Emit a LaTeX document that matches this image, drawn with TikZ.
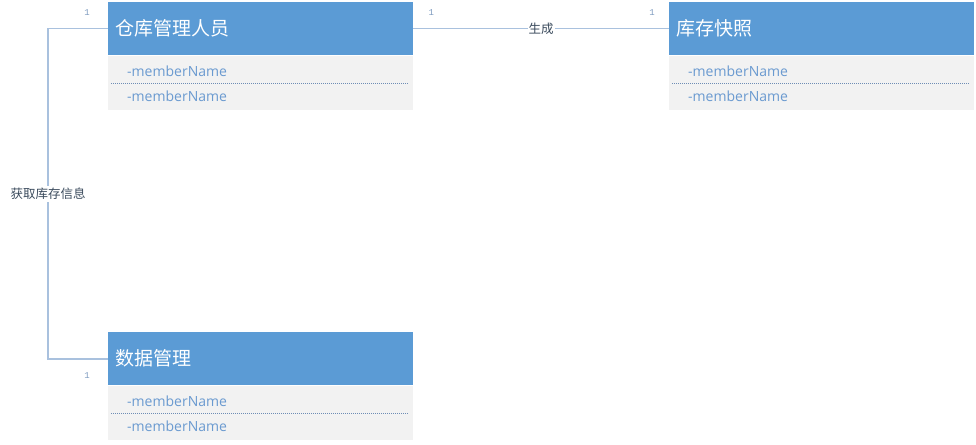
\documentclass[tikz,border=0pt]{standalone}
\usepackage{fontspec}
\setmainfont{Open Sans}
\newfontfamily\cjk{Noto Sans CJK SC}
\newfontfamily\monof{Liberation Mono}
\usetikzlibrary{calc}
\definecolor{hdrblue}{HTML}{5B9BD5}
\definecolor{bodygray}{HTML}{F2F2F2}
\definecolor{membertxt}{HTML}{6A9AD0}
\definecolor{connline}{HTML}{A9C1DE}
\definecolor{sepline}{HTML}{6E8DB5}
\definecolor{multtxt}{HTML}{7F9CC0}
\definecolor{lbltxt}{HTML}{3A4A5C}
\begin{document}
\begin{tikzpicture}[x=1pt,y=-1pt,
  header/.style={fill=hdrblue, draw=none, anchor=north west,
    text width=291pt, inner xsep=7pt, inner ysep=0pt, minimum height=53pt,
    align=left, text=white, font=\cjk\fontsize{19}{22}\selectfont},
  classbody/.style={fill=bodygray, draw=none, anchor=north,
    minimum width=305pt, minimum height=54pt, inner sep=0pt},
  member/.style={anchor=west, inner sep=0pt, text=membertxt,
    font=\fontsize{14}{16}\selectfont},
  sep/.style={draw=sepline, line width=0.7pt, dash pattern=on 1pt off 1pt},
  conn/.style={draw=connline, line width=1.6pt},
  lbl/.style={fill=white, inner xsep=1pt, inner ysep=2pt, text=lbltxt,
    font=\cjk\fontsize{12.5}{14}\selectfont},
  mult/.style={inner sep=0pt, text=multtxt, font=\monof\fontsize{9}{10}\selectfont}
]
\useasboundingbox (0,0) rectangle (976,444);

% class: warehouse staff
\node[header] (staff) at (108,2) {仓库管理人员};
\node[classbody] (staffbody) at (staff.south) {};
\draw[sep] ($(staffbody.west)+(3,1)$) -- ($(staffbody.east)+(-5,1)$);
\node[member] (staffm1) at ($(staffbody.north west)+(19,16)$) {-memberName};
\node[member] (staffm2) at ($(staffbody.north west)+(19,41)$) {-memberName};

% class: inventory snapshot
\node[header] (snap) at (669,2) {库存快照};
\node[classbody] (snapbody) at (snap.south) {};
\draw[sep] ($(snapbody.west)+(3,1)$) -- ($(snapbody.east)+(-5,1)$);
\node[member] (snapm1) at ($(snapbody.north west)+(19,16)$) {-memberName};
\node[member] (snapm2) at ($(snapbody.north west)+(19,41)$) {-memberName};

% class: data management
\node[header] (data) at (108,332) {数据管理};
\node[classbody] (databody) at (data.south) {};
\draw[sep] ($(databody.west)+(3,1)$) -- ($(databody.east)+(-5,1)$);
\node[member] (datam1) at ($(databody.north west)+(19,16)$) {-memberName};
\node[member] (datam2) at ($(databody.north west)+(19,41)$) {-memberName};

% associations
\draw[conn] (staff.east) -- node[lbl] {生成} (snap.west);
\draw[conn] (staff.west) -- ++(-60,0) |- node[lbl, pos=0.25] {获取库存信息} (data.west);

% multiplicities
\node[mult] (m1) at ($(staff.west)+(-21,-16)$) {1};
\node[mult] (m2) at ($(data.west)+(-21,17)$) {1};
\node[mult] (m3) at ($(staff.east)+(18,-16)$) {1};
\node[mult] (m4) at ($(snap.west)+(-17,-16)$) {1};
\end{tikzpicture}
\end{document}
